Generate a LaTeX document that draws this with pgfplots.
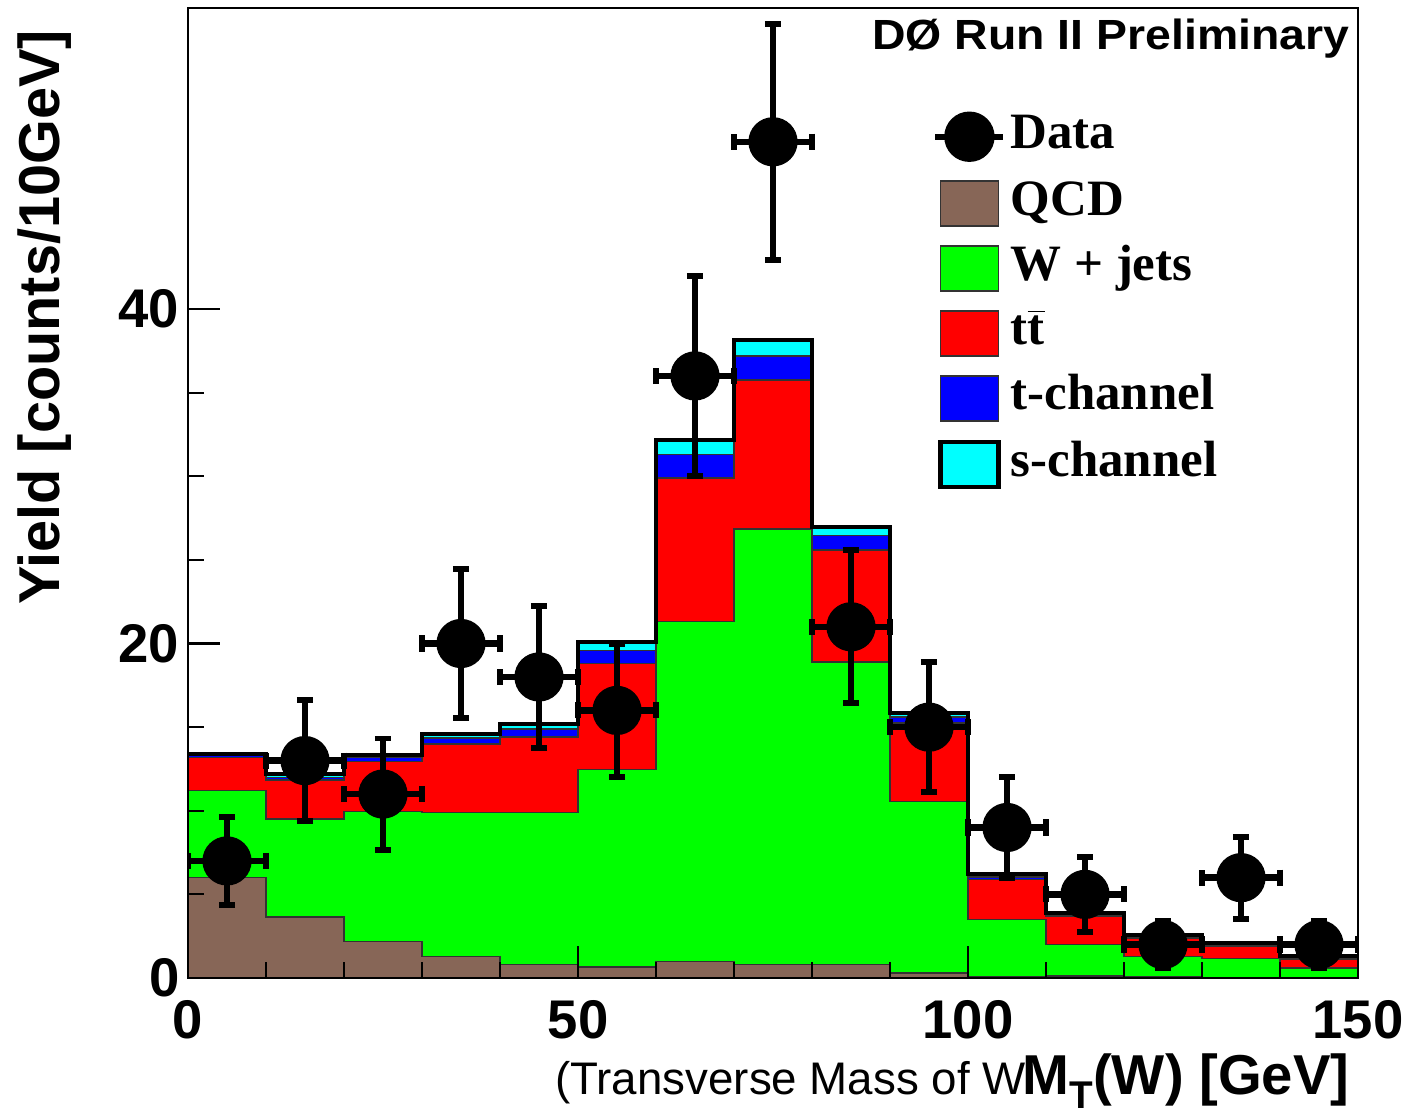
\documentclass[border=0pt]{standalone}
\usepackage{fontspec}
\setmainfont{Liberation Serif}
\setsansfont{Liberation Sans}
\usepackage{pgfplots}
\pgfplotsset{compat=1.18}
\usepackage{pgfplotstable}

\definecolor{qcd}{RGB}{135,102,87}
\definecolor{wjets}{RGB}{0,255,0}
\definecolor{ttbar}{RGB}{255,0,0}
\definecolor{tchan}{RGB}{0,0,255}
\definecolor{schan}{RGB}{0,255,255}

% cumulative tops of the stacked backgrounds (left bin edge, last row repeats the last bin)
\pgfplotstableread{
x    qcd   w     tt    tch   sch
0    6.0   11.2  13.2  13.3  13.4
10   3.65  9.5   11.85 12.0  12.2
20   2.2   9.95  12.94 13.17 13.35
30   1.3   9.9   14.0  14.35 14.6
40   0.8   9.9   14.4  14.9  15.2
50   0.65  12.45 18.8  19.6  20.1
60   1.0   21.3  29.9  31.3  32.15
70   0.8   26.85 35.75 37.2  38.15
80   0.8   18.9  25.6  26.45 26.95
90   0.3   10.55 15.25 15.6  15.85
100  0.08  3.5   5.9   6.05  6.2
110  0.12  2.0   3.7   3.8   3.9
120  0.05  1.27  2.38  2.45  2.58
130  0.03  1.18  1.87  1.95  2.07
140  0.02  0.6   1.1   1.2   1.3
150  0.02  0.6   1.1   1.2   1.3
}\stack

% data points, error = sqrt(N)
\pgfplotstableread{
x    n   e
5    7   2.65
15   13  3.61
25   11  3.32
35   20  4.47
45   18  4.24
55   16  4.00
65   36  6.00
75   50  7.07
85   21  4.58
95   15  3.87
105  9   3.00
115  5   2.24
125  2   1.41
135  6   2.45
145  2   1.41
}\data

\pgfplotsset{
  box legend/.style={legend image code/.code={
    \draw[##1] (-0.29cm,-0.225cm) rectangle (0.29cm,0.225cm);}},
}

\begin{document}
\begin{tikzpicture}
\useasboundingbox (0,0) rectangle (14.07,11.12);
\begin{axis}[
  at={(1.88cm,1.34cm)}, anchor=south west,
  width=11.7cm, height=9.7cm, scale only axis,
  xmin=0, xmax=150, ymin=0, ymax=58,
  xtick={0,50,100,150}, minor x tick num=4,
  ytick={0,20,40}, minor y tick num=3,
  xtick pos=bottom, ytick pos=left, tick align=inside,
  major tick length=0.32cm, minor tick length=0.16cm,
  tick style={black, line width=0.6pt},
  axis line style={line width=0.7pt},
  axis on top,
  /pgf/number format/assume math mode=true,
  ticklabel style={font=\sffamily\bfseries\fontsize{15.5}{15.5}\selectfont, inner sep=0pt},
  xticklabel style={anchor=north, yshift=-0.22cm},
  yticklabel style={anchor=east, xshift=-0.08cm},
  ylabel={\fontsize{16.4}{16.4}\selectfont\sffamily\bfseries Yield [counts/10GeV]},
  ylabel style={at={(axis description cs:-0.1094,0.681)}, anchor=base, inner sep=0pt},
  xlabel={{\sffamily\fontsize{13}{13}\selectfont (Transverse Mass of W}\kern-0.03cm{\sffamily\bfseries\fontsize{16}{16}\selectfont M\raisebox{-0.25em}{\fontsize{11}{11}\selectfont T}(W) [GeV]}},
  xlabel style={at={(axis description cs:0.9932,-0.1200)}, anchor=base east, inner sep=0pt},
  title={\sffamily\bfseries\fontsize{12}{12}\selectfont\scalebox{1.1}[1]{DØ Run II Preliminary}},
  title style={at={(axis description cs:0.9932,0.9897)}, anchor=north east, inner sep=0pt, yshift=-6pt},
  legend style={at={(axis description cs:0.6355,0.894)}, anchor=north west,
    draw=none, fill=none, inner sep=0pt, row sep=0.185cm,
    font=\rmfamily\bfseries\fontsize{14.5}{14.5}\selectfont,
    nodes={inner sep=0pt, text height=0.33cm, text depth=0.1cm},
    /tikz/every odd column/.style={column sep=0.04cm}},
  legend cell align=left,
]
\addlegendimage{legend image code/.code={
  \draw[black, line width=1.8pt] (-0.34cm,0) -- (0.34cm,0);
  \fill[black] (0,0) circle (0.245cm);}}
\addlegendentry{Data}
\addlegendimage{box legend, fill=qcd, draw=black!80, line width=0.4pt}
\addlegendentry{QCD}
\addlegendimage{box legend, fill=wjets, draw=black!80, line width=0.4pt}
\addlegendentry{W + jets}
\addlegendimage{box legend, fill=ttbar, draw=black!80, line width=0.4pt}
\addlegendentry{t$\overline{\hbox{t}}$}
\addlegendimage{box legend, fill=tchan, draw=black!80, line width=0.4pt}
\addlegendentry{t-channel}
\addlegendimage{box legend, fill=schan, draw=black, line width=1.2pt}
\addlegendentry{s-channel}

% stacked backgrounds, drawn from the top down
\addplot[forget plot, const plot mark left, fill=schan, draw=black!80, line width=0.4pt] table[x=x, y=sch] {\stack} \closedcycle;
\addplot[forget plot, const plot mark left, fill=tchan, draw=black!80, line width=0.4pt] table[x=x, y=tch] {\stack} \closedcycle;
\addplot[forget plot, const plot mark left, fill=ttbar, draw=black!80, line width=0.4pt] table[x=x, y=tt] {\stack} \closedcycle;
\addplot[forget plot, const plot mark left, fill=wjets, draw=black!80, line width=0.4pt] table[x=x, y=w] {\stack} \closedcycle;
\addplot[forget plot, const plot mark left, fill=qcd, draw=black!80, line width=0.4pt] table[x=x, y=qcd] {\stack} \closedcycle;
% total outline
\addplot[forget plot, const plot mark left, draw=black, line width=1.2pt] table[x=x, y=sch] {\stack};

% data
\addplot[forget plot, only marks, mark=*, mark size=6.8pt, black,
  error bars/.cd, x dir=both, x fixed=5, y dir=both, y explicit,
  error bar style={line width=1.8pt},
  error mark options={rotate=90, line width=1.7pt, mark size=2.3pt}]
  table[x=x, y=n, y error=e] {\data};
\end{axis}
\end{tikzpicture}
\end{document}
